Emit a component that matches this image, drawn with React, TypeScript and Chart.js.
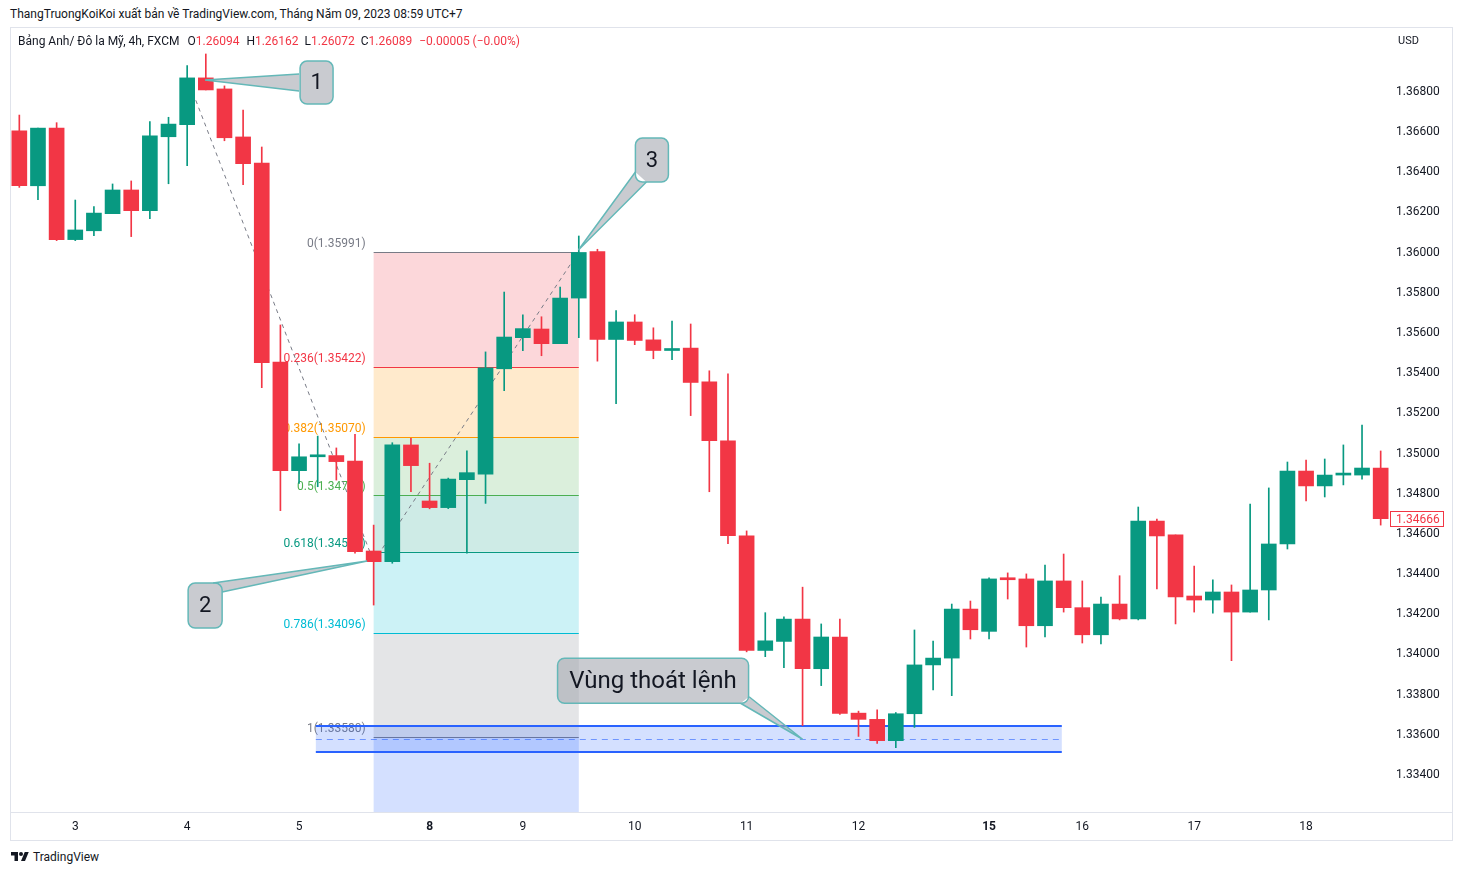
import React, { useEffect, useRef } from 'react';
import { Chart, registerables } from 'chart.js';
Chart.register(...registerables);

// ---------- data ----------
const opens = [1.36597, 1.36323, 1.3661, 1.36055, 1.36099, 1.36184, 1.36302, 1.36199, 1.36567, 1.36627,
  1.3686, 1.36805, 1.36566, 1.36436, 1.35446, 1.34905, 1.34974, 1.3498, 1.34953, 1.34505,
  1.34452, 1.35033, 1.34754, 1.34721, 1.3486, 1.34888, 1.35412, 1.35567, 1.3561, 1.35537,
  1.35764, 1.35995, 1.35558, 1.35645, 1.35556, 1.35503, 1.35515, 1.35347, 1.35054, 1.34581,
  1.3401, 1.34055, 1.34166, 1.33919, 1.34077, 1.33698, 1.33667, 1.33561, 1.33695, 1.33938,
  1.33972, 1.34216, 1.34105, 1.34368, 1.34366, 1.34133, 1.34356, 1.34223, 1.34088, 1.34241,
  1.34167, 1.34654, 1.34585, 1.34281, 1.34261, 1.34301, 1.34201, 1.34311, 1.3454, 1.34903,
  1.34829, 1.34883, 1.34883, 1.34918];
const highs = [1.36675, 1.3661, 1.36637, 1.36252, 1.36219, 1.36332, 1.36347, 1.36642, 1.36664, 1.36921,
  1.36979, 1.3682, 1.367, 1.36516, 1.3563, 1.35038, 1.35077, 1.35018, 1.35086, 1.34634,
  1.35044, 1.35066, 1.34942, 1.34868, 1.35004, 1.35496, 1.35794, 1.3568, 1.35671, 1.35819,
  1.36073, 1.36007, 1.35702, 1.35681, 1.35616, 1.3565, 1.35635, 1.35402, 1.35387, 1.34605,
  1.34198, 1.34177, 1.34325, 1.34142, 1.34166, 1.33708, 1.33714, 1.33701, 1.34112, 1.34057,
  1.34241, 1.34256, 1.34371, 1.34396, 1.34391, 1.34435, 1.3449, 1.34356, 1.34276, 1.34382,
  1.34724, 1.34664, 1.34585, 1.3443, 1.34361, 1.34336, 1.34739, 1.34819, 1.34948, 1.34958,
  1.34963, 1.35033, 1.35132, 1.35003];
const lows = [1.36315, 1.36254, 1.3605, 1.3605, 1.36074, 1.36184, 1.3607, 1.36159, 1.36333, 1.36423,
  1.368, 1.36547, 1.36328, 1.35318, 1.34706, 1.34842, 1.34825, 1.34858, 1.34494, 1.34236,
  1.34444, 1.348, 1.34715, 1.34716, 1.34494, 1.34742, 1.35303, 1.35502, 1.35477, 1.35537,
  1.35567, 1.3545, 1.35239, 1.35532, 1.35462, 1.35457, 1.35179, 1.348, 1.34541, 1.34003,
  1.33979, 1.33924, 1.33636, 1.33835, 1.33691, 1.33582, 1.33547, 1.33526, 1.33627, 1.33813,
  1.33785, 1.34067, 1.34068, 1.34266, 1.34027, 1.34077, 1.34201, 1.34047, 1.34042, 1.34162,
  1.34162, 1.34316, 1.34142, 1.34201, 1.34196, 1.33959, 1.34201, 1.34162, 1.34515, 1.34754,
  1.34774, 1.34834, 1.34863, 1.34634];
const closes = [1.36323, 1.3661, 1.36055, 1.36103, 1.36187, 1.36302, 1.36199, 1.36571, 1.3663, 1.3686,
  1.368, 1.36562, 1.36433, 1.35442, 1.34905, 1.34974, 1.3498, 1.3495, 1.34502, 1.34452,
  1.35033, 1.3493, 1.34721, 1.34863, 1.34895, 1.35417, 1.3557, 1.35612, 1.35537, 1.35764,
  1.35991, 1.35558, 1.35645, 1.35553, 1.35503, 1.3551, 1.35344, 1.35054, 1.34581, 1.3401,
  1.34058, 1.34166, 1.33919, 1.34077, 1.33696, 1.33667, 1.33561, 1.33695, 1.33938, 1.33972,
  1.34216, 1.34113, 1.34366, 1.34362, 1.34133, 1.34356, 1.34223, 1.34088, 1.34241, 1.34167,
  1.34654, 1.3458, 1.34276, 1.34261, 1.34301, 1.34201, 1.34311, 1.3454, 1.34903, 1.34829,
  1.34883, 1.34886, 1.34918, 1.34666];

const tickIndex = [3, 9, 15, 22, 27, 33, 39, 45, 52, 57, 63, 69];
const tickText = ['3', '4', '5', '8', '9', '10', '11', '12', '15', '16', '17', '18'];
const boldTicks = ['8', '15'];
const priceTicks = [1.334, 1.336, 1.338, 1.34, 1.342, 1.344, 1.346, 1.348, 1.35, 1.352,
  1.354, 1.356, 1.358, 1.36, 1.362, 1.364, 1.366, 1.368];

// Fibonacci retracement
const fibRatios = [0, 0.236, 0.382, 0.5, 0.618, 0.786, 1];
const fibHigh = 1.35991;
const fibLow = 1.3358;
const fibStartIdx = 19;
const fibEndIdx = 30;

// exit zone rectangle
const zoneIdx = [15.9, 55.9];
const zonePrices = [1.33634, 1.33505];

// dashed trend lines [idx, price]
const trend1 = [[9, 1.3686], [19, 1.34452]];
const trend2 = [[19, 1.34452], [30, 1.35995]];

// callout anchors [idx, price]
const calloutTexts = ['1', '2', '3', 'Vùng thoát lệnh'];
const calloutTips = [[9.96, 1.36849], [18.65, 1.34455], [29.98, 1.36003], [42, 1.33568]];

const lastPrice = 1.34666;

// ---------- styles ----------
const UP = '#089981';
const DOWN = '#F23645';
const fibLineColors = ['#787B86', '#F23645', '#FF9800', '#4CAF50', '#089981', '#00BCD4', '#787B86'];
const fibFillColors = ['rgba(242,54,69,0.2)', 'rgba(255,152,0,0.2)', 'rgba(76,175,80,0.2)',
  'rgba(8,153,129,0.2)', 'rgba(0,188,212,0.2)', 'rgba(120,123,134,0.2)'];
const fibBelowFill = 'rgba(41,98,255,0.2)';
const FONT = 'Roboto, "Noto Sans", sans-serif';

// callout geometry relative to tip (px): box [dx, dy, w, h], tail base points, font size
const calloutBoxes = [
  { box: [95, -19, 33, 43], base: [[94, -6], [94, 11]], size: 22 },
  { box: [-179, 22, 34, 45], base: [[-154, 22], [-145, 31]], size: 22 },
  { box: [57, -112, 33, 44], base: [[57, -78], [68, -68]], size: 22 },
  { box: [-245, -81, 191, 45], base: [[-62, -36], [-53.5, -42.5]], size: 24 },
];

const yMax = 1.371083;
const yMin = 1.332059;

function fmt(v: number) { return v.toFixed(5); }

function roundRectPath(ctx: CanvasRenderingContext2D, x: number, y: number, w: number, h: number, r: number) {
  ctx.moveTo(x + r, y);
  ctx.lineTo(x + w - r, y);
  ctx.arcTo(x + w, y, x + w, y + r, r);
  ctx.lineTo(x + w, y + h - r);
  ctx.arcTo(x + w, y + h, x + w - r, y + h, r);
  ctx.lineTo(x + r, y + h);
  ctx.arcTo(x, y + h, x, y + h - r, r);
  ctx.lineTo(x, y + r);
  ctx.arcTo(x, y, x + r, y, r);
  ctx.closePath();
}

const annotationPlugin = {
  id: 'tvAnnotations',
  beforeDatasetsDraw(chart: any) {
    const { ctx, chartArea: a } = chart;
    const xs = chart.scales.x;
    const ys = chart.scales.y;
    ctx.save();
    ctx.beginPath();
    ctx.rect(a.left, a.top, a.right - a.left, a.bottom - a.top);
    ctx.clip();

    // fib
    const x1 = xs.getPixelForValue(fibStartIdx);
    const x2 = xs.getPixelForValue(fibEndIdx);
    const lvl = fibRatios.map(r => fibHigh - (fibHigh - fibLow) * r);
    const py = lvl.map(p => ys.getPixelForValue(p));
    for (let i = 0; i < fibFillColors.length; i++) {
      ctx.fillStyle = fibFillColors[i];
      ctx.fillRect(x1, py[i], x2 - x1, py[i + 1] - py[i]);
    }
    ctx.fillStyle = fibBelowFill;
    ctx.fillRect(x1, py[py.length - 1], x2 - x1, a.bottom - py[py.length - 1]);
    ctx.lineWidth = 1;
    ctx.font = `12px ${FONT}`;
    ctx.textAlign = 'right';
    ctx.textBaseline = 'alphabetic';
    for (let i = 0; i < fibRatios.length; i++) {
      const y = Math.round(py[i]) + 0.5;
      ctx.strokeStyle = fibLineColors[i];
      ctx.beginPath();
      ctx.moveTo(x1, y);
      ctx.lineTo(x2, y);
      ctx.stroke();
      ctx.fillStyle = fibLineColors[i];
      ctx.fillText(`${fibRatios[i]}(${fmt(lvl[i])})`, x1 - 8, y - 6);
    }

    // zone rectangle
    const zx1 = xs.getPixelForValue(zoneIdx[0]);
    const zx2 = xs.getPixelForValue(zoneIdx[1]);
    const zy1 = ys.getPixelForValue(zonePrices[0]);
    const zy2 = ys.getPixelForValue(zonePrices[1]);
    ctx.fillStyle = 'rgba(41,98,255,0.2)';
    ctx.fillRect(zx1, zy1, zx2 - zx1, zy2 - zy1);
    ctx.strokeStyle = '#2962FF';
    ctx.lineWidth = 2;
    ctx.beginPath();
    ctx.moveTo(zx1, zy1); ctx.lineTo(zx2, zy1);
    ctx.moveTo(zx1, zy2); ctx.lineTo(zx2, zy2);
    ctx.stroke();
    const zm = Math.round((zy1 + zy2) / 2) + 0.5;
    ctx.strokeStyle = 'rgba(41,98,255,0.6)';
    ctx.lineWidth = 1;
    ctx.setLineDash([6, 5]);
    ctx.beginPath();
    ctx.moveTo(zx1, zm); ctx.lineTo(zx2, zm);
    ctx.stroke();

    // dashed trend lines
    ctx.strokeStyle = '#787B86';
    ctx.lineWidth = 1;
    ctx.setLineDash([4, 4]);
    for (const t of [trend1, trend2]) {
      ctx.beginPath();
      ctx.moveTo(xs.getPixelForValue(t[0][0]), ys.getPixelForValue(t[0][1]));
      ctx.lineTo(xs.getPixelForValue(t[1][0]), ys.getPixelForValue(t[1][1]));
      ctx.stroke();
    }
    ctx.setLineDash([]);
    ctx.restore();
  },
  afterDatasetsDraw(chart: any) {
    const { ctx } = chart;
    const xs = chart.scales.x;
    const ys = chart.scales.y;
    ctx.save();
    calloutTips.forEach((tp, k) => {
      const tx = xs.getPixelForValue(tp[0]);
      const ty = ys.getPixelForValue(tp[1]);
      const g = calloutBoxes[k];
      const bx = tx + g.box[0], by = ty + g.box[1], bw = g.box[2], bh = g.box[3];
      const b1 = [tx + g.base[0][0], ty + g.base[0][1]];
      const b2 = [tx + g.base[1][0], ty + g.base[1][1]];
      ctx.beginPath();
      roundRectPath(ctx, bx, by, bw, bh, 7);
      ctx.moveTo(b1[0], b1[1]);
      ctx.lineTo(tx, ty);
      ctx.lineTo(b2[0], b2[1]);
      ctx.closePath();
      ctx.fillStyle = 'rgba(165,168,176,0.6)';
      ctx.fill('nonzero');
      ctx.strokeStyle = '#64B8B8';
      ctx.lineWidth = 1.5;
      ctx.beginPath();
      roundRectPath(ctx, bx, by, bw, bh, 7);
      ctx.stroke();
      ctx.beginPath();
      ctx.moveTo(b1[0], b1[1]);
      ctx.lineTo(tx, ty);
      ctx.lineTo(b2[0], b2[1]);
      ctx.stroke();
      ctx.fillStyle = '#131722';
      ctx.font = `${g.size}px ${FONT}`;
      ctx.textAlign = 'center';
      ctx.textBaseline = 'middle';
      ctx.fillText(calloutTexts[k], bx + bw / 2, by + bh / 2 + 1);
    });
    ctx.restore();
  },
  afterDraw(chart: any) {
    const { ctx, chartArea: a } = chart;
    const ys = chart.scales.y;
    const y = Math.round(ys.getPixelForValue(lastPrice));
    ctx.save();
    ctx.fillStyle = '#ffffff';
    ctx.fillRect(a.right, y - 8, 54, 16);
    ctx.strokeStyle = DOWN;
    ctx.lineWidth = 1;
    ctx.strokeRect(a.right + 0.5, y - 7.5, 53, 15);
    ctx.fillStyle = DOWN;
    ctx.font = `12px ${FONT}`;
    ctx.textAlign = 'left';
    ctx.textBaseline = 'middle';
    ctx.fillText(fmt(lastPrice), a.right + 6, y + 0.5);
    ctx.restore();
  },
};

export default function App() {
  const ref = useRef<HTMLCanvasElement>(null);
  useEffect(() => {
    document.body.style.margin = '0';
    const labels = opens.map((_, i) => {
      const k = tickIndex.indexOf(i);
      return k >= 0 ? tickText[k] : '';
    });
    const colors = closes.map((c, i) => (c >= opens[i] ? UP : DOWN));
    Chart.defaults.font.family = FONT;
    const chart = new Chart(ref.current as HTMLCanvasElement, {
      type: 'bar',
      data: {
        labels,
        datasets: [
          {
            label: 'wick',
            data: lows.map((l, i) => [l, highs[i]]) as any,
            backgroundColor: colors,
            barThickness: 1,
            grouped: false,
            order: 2,
          } as any,
          {
            label: 'body',
            data: opens.map((o, i) => [Math.min(o, closes[i]), Math.max(o, closes[i])]) as any,
            backgroundColor: colors,
            barThickness: 15,
            minBarLength: 2,
            grouped: false,
            order: 1,
          } as any,
        ],
      },
      options: {
        responsive: false,
        animation: false,
        devicePixelRatio: 1,
        layout: { padding: 0 },
        plugins: { legend: { display: false }, tooltip: { enabled: false } },
        scales: {
          x: {
            type: 'category',
            offset: true,
            grid: { display: false, drawTicks: false },
            border: { display: false },
            ticks: {
              autoSkip: false,
              maxRotation: 0,
              minRotation: 0,
              padding: 8,
              color: '#131722',
              font: (c: any) => ({ size: 12, weight: boldTicks.includes(c.tick && c.tick.label) ? 'bold' : 'normal' }),
            },
            afterFit: (s: any) => { s.height = 28; s.paddingLeft = 0; s.paddingRight = 0; },
          },
          y: {
            position: 'right',
            min: yMin,
            max: yMax,
            grid: { display: false, drawTicks: false },
            border: { display: false },
            afterBuildTicks: (s: any) => { s.ticks = priceTicks.map(v => ({ value: v })); },
            ticks: {
              padding: 6,
              labelOffset: 2,
              color: '#131722',
              font: { size: 12 },
              callback: (v: any) => fmt(Number(v)),
            },
            afterFit: (s: any) => { s.width = 62; s.paddingTop = 0; s.paddingBottom = 0; },
          },
        },
      } as any,
      plugins: [annotationPlugin],
    });
    return () => chart.destroy();
  }, []);

  const red = { color: DOWN };
  return (
    <div style={{ position: 'relative', width: 1462, height: 875, background: '#fff', fontFamily: FONT, color: '#131722', overflow: 'hidden' }}>
      <div style={{ position: 'absolute', left: 10, top: 7, fontSize: 12, whiteSpace: 'nowrap' }}>
        ThangTruongKoiKoi xuất bản về TradingView.com, Tháng Năm 09, 2023 08:59 UTC+7
      </div>
      <div style={{ position: 'absolute', left: 10, top: 27, width: 1441, height: 812, border: '1px solid #E0E3EB', boxSizing: 'content-box' }} />
      <div style={{ position: 'absolute', left: 10, top: 812, width: 1442, height: 1, background: '#E0E3EB' }} />
      <canvas ref={ref} width={1442} height={812} style={{ position: 'absolute', left: 10, top: 28, width: 1442, height: 812 }} />
      <div style={{ position: 'absolute', left: 18, top: 34, fontSize: 12, whiteSpace: 'nowrap' }}>
        Bảng Anh/ Đô la Mỹ, 4h, FXCM
        <span style={{ marginLeft: 8 }}>O</span><span style={red}>1.26094</span>
        <span style={{ marginLeft: 7 }}>H</span><span style={red}>1.26162</span>
        <span style={{ marginLeft: 6 }}>L</span><span style={red}>1.26072</span>
        <span style={{ marginLeft: 6 }}>C</span><span style={red}>1.26089</span>
        <span style={{ ...red, marginLeft: 7 }}>−0.00005 (−0.00%)</span>
      </div>
      <div style={{ position: 'absolute', left: 1398, top: 34, fontSize: 11 }}>USD</div>
      <div style={{ position: 'absolute', left: 10, top: 850, display: 'flex', alignItems: 'center', fontSize: 12 }}>
        <svg width="20" height="14" viewBox="0 0 36 28">
          <path d="M14 22H7V11H0V4h14v18zM28 22h-8l7.5-18h8L28 22z" fill="#131722" />
          <circle cx="20" cy="8" r="4" fill="#131722" />
        </svg>
        <span style={{ marginLeft: 3 }}>TradingView</span>
      </div>
    </div>
  );
}
